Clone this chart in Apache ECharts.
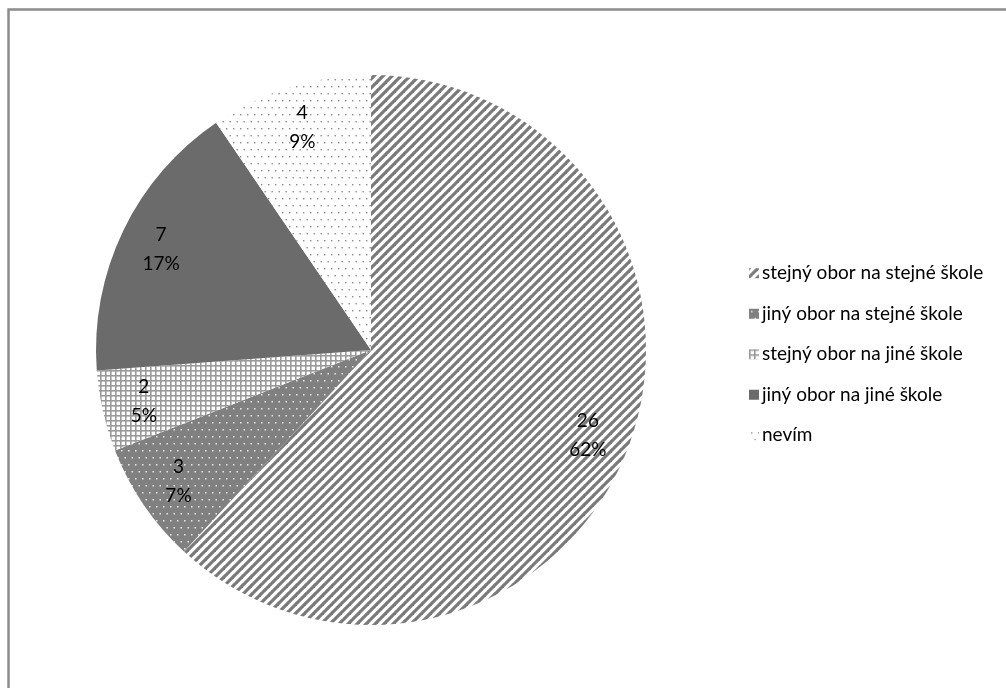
<!DOCTYPE html>
<html>
<head>
<meta charset="utf-8">
<script src="https://cdn.jsdelivr.net/npm/echarts@6/dist/echarts.min.js"></script>
<style>html,body{margin:0;padding:0;background:#fff}#c{width:1006px;height:688px}</style>
</head>
<body>
<div id="c"></div>
<script>
const categories = ['stejný obor na stejné škole', 'jiný obor na stejné škole', 'stejný obor na jiné škole', 'jiný obor na jiné škole', 'nevím'];
const values = [26, 3, 2, 7, 4];

function tile(w, h, draw) {
  const c = document.createElement('canvas');
  c.width = w; c.height = h;
  draw(c.getContext('2d'), w, h);
  return { image: c, repeat: 'repeat' };
}
const stripes = tile(9, 9, (g, w, h) => {
  g.fillStyle = '#fff'; g.fillRect(0, 0, w, h);
  g.strokeStyle = '#7a7a7a'; g.lineWidth = 3.2; g.lineCap = 'square';
  [-w, 0, w].forEach((ox) => {
    g.beginPath(); g.moveTo(ox, h); g.lineTo(ox + w, 0); g.stroke();
  });
});
const grayDots = tile(14, 14, (g, w, h) => {
  g.fillStyle = '#808080'; g.fillRect(0, 0, w, h);
  g.fillStyle = '#e8e8e8';
  g.fillRect(2, 2, 1.5, 1.5); g.fillRect(9, 2, 1.5, 1.5);
  g.fillRect(5.5, 9, 1.5, 1.5); g.fillRect(12.5, 9, 1.5, 1.5);
});
const grid = tile(5, 5, (g, w, h) => {
  g.fillStyle = '#fff'; g.fillRect(0, 0, w, h);
  g.fillStyle = '#9a9a9a';
  g.fillRect(0, 0, w, 1.6); g.fillRect(0, 0, 1.6, h);
});
const whiteDots = tile(14, 14, (g, w, h) => {
  g.fillStyle = '#fff'; g.fillRect(0, 0, w, h);
  g.fillStyle = '#8a8a8a';
  g.fillRect(2, 2, 1.4, 1.4); g.fillRect(9, 2, 1.4, 1.4);
  g.fillRect(5.5, 9, 1.4, 1.4); g.fillRect(12.5, 9, 1.4, 1.4);
});
const fills = [stripes, grayDots, grid, '#6b6b6b', whiteDots];

const chart = echarts.init(document.getElementById('c'), null, { renderer: 'canvas' });
chart.setOption({
  animation: false,
  backgroundColor: '#fff',
  graphic: [{
    type: 'rect', shape: { x: 8.5, y: 9.5, width: 1010, height: 700 },
    style: { fill: 'none', stroke: '#8c8c8c', lineWidth: 2.5 }, silent: true
  }],
  legend: {
    orient: 'vertical', left: 744, top: 258,
    itemWidth: 10, itemHeight: 10, itemGap: 20,
    icon: 'rect',
    data: categories,
    textStyle: { fontFamily: 'Lato', fontSize: 19, color: '#000', lineHeight: 20.5, padding: [0, 0, 0, -2] }
  },
  series: [{
    type: 'pie', center: [371, 350], radius: 275, startAngle: 90, clockwise: true,
    silent: true,
    data: categories.map((n, i) => ({ name: n, value: values[i], itemStyle: { color: fills[i] } })),
    label: { show: false }, labelLine: { show: false },
    itemStyle: { borderWidth: 0 }
  }, {
    type: 'pie', center: [371, 350], radius: [185, 275], startAngle: 90, clockwise: true,
    silent: true, legendHoverLink: false, percentPrecision: 0,
    data: categories.map((n, i) => ({ name: n, value: values[i], itemStyle: { color: 'rgba(0,0,0,0)' } })),
    label: {
      show: true, position: 'inside', formatter: '{c}\n{d}%',
      fontFamily: 'Lato', fontSize: 19, color: '#000', lineHeight: 29
    },
    labelLine: { show: false },
    itemStyle: { borderWidth: 0 }
  }]
});
</script>
</body>
</html>
